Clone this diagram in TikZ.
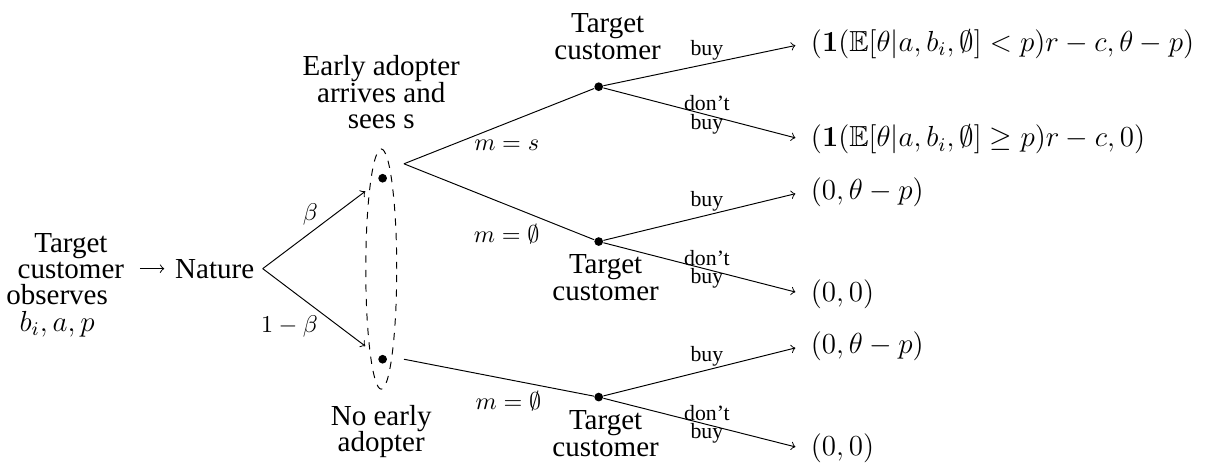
\documentclass[tikz,border=0pt]{standalone}
\usepackage{amsmath,amssymb}
\usepackage[no-math]{fontspec}
\setmainfont{Liberation Serif}
\usetikzlibrary{positioning,shapes.geometric}
\tikzstyle{txt} = [align=center, font=\fontsize{12pt}{11pt}\selectfont]
\tikzstyle{lbl} = [align=center, inner sep=1pt, font=\fontsize{9pt}{7.6pt}\selectfont]
\tikzstyle{mlbl} = [inner sep=1pt, font=\fontsize{10pt}{12pt}\selectfont]
\tikzstyle{payoff} = [anchor=west, font=\fontsize{12pt}{14pt}\selectfont]
\tikzstyle{dot} = [circle, fill, inner sep=0pt, minimum size=3.6pt]
\tikzstyle{infoset} = [ellipse, draw, dashed, inner sep=0pt,
    minimum width=0.45cm, minimum height=3.49cm]
\tikzstyle{branch} = [draw, ->]
\tikzstyle{branchline} = [draw]

\begin{document}
\begin{tikzpicture}
    \useasboundingbox (0,0) rectangle (17.51,-6.742);
    % Place nodes
    \node [txt, anchor=base] (nature) at (3.12,-4.04) {Nature};
    \node [txt, anchor=south] (tc) at (1.03,-4.18) {Target\\customer};
    \node [txt, anchor=north] (obs) at (0.83,-4.01) {observes\\$b_i,a,p$};
    \node [infoset] (info) at (5.54,-3.91) {};
    \node [dot] (ea) at (5.56,-2.59) {};
    \node [dot] (na) at (5.56,-5.22) {};
    \coordinate (s1) at (5.87,-2.38);
    \coordinate (s2) at (5.87,-5.22);
    \node [txt, above=0.16cm of info] (eatext) {Early adopter\\arrives and\\sees s};
    \node [txt, below=0.1cm of info] (natext) {No early\\adopter};
    \node [dot] (t1) at (8.70,-1.26) {};
    \node [dot] (t2) at (8.70,-3.51) {};
    \node [dot] (t3) at (8.70,-5.77) {};
    \node [txt, above=0.2cm of t1, xshift=0.13cm] (t1text) {Target\\customer};
    \node [txt, below=0pt of t2, xshift=0.1cm] (t2text) {Target\\customer};
    \node [txt, below=0pt of t3, xshift=0.1cm] (t3text) {Target\\customer};
    % payoffs
    \node [payoff] (l1) at (11.66,-0.64) {$(\mathbf{1}(\mathbb{E}[\theta|a,b_i,\emptyset] < p)r-c,\theta-p)$};
    \node [payoff] (l2) at (11.66,-2.03) {$(\mathbf{1}(\mathbb{E}[\theta|a,b_i,\emptyset] \geq p)r-c,0)$};
    \node [payoff] (l3) at (11.66,-2.79) {$(0,\theta-p)$};
    \node [payoff] (l4) at (11.66,-4.27) {$(0,0)$};
    \node [payoff] (l5) at (11.66,-5.03) {$(0,\theta-p)$};
    \node [payoff] (l6) at (11.66,-6.52) {$(0,0)$};

    % Draw edges
    \path [branch, shorten <=3pt, shorten >=1pt] (tc.east |- nature.west) -- (nature.west);
    \path [branch, shorten >=7pt] (nature.east) -- node [mlbl, above left, yshift=-1.5pt] {$\beta$} (ea);
    \path [branch, shorten >=7pt] (nature.east) -- node [mlbl, below left] {$1-\beta$} (na);
    \path [branchline] (s1) -- node [mlbl, pos=0.54, below=6pt] {$m=s$} (t1);
    \path [branchline] (s1) -- node [mlbl, pos=0.54, below=7pt] {$m=\emptyset$} (t2);
    \path [branchline] (s2) -- node [mlbl, pos=0.55, below=3.5pt] {$m=\emptyset$} (t3);
    \path [branch, shorten >=3pt] (t1) -- node [lbl, pos=0.52, above=0.5pt] {buy} (l1.west);
    \path [branch, shorten >=3pt] (t1) -- node [lbl, pos=0.52] {don't\\buy} (l2.west);
    \path [branch, shorten >=3pt] (t2) -- node [lbl, pos=0.52, above=0.5pt] {buy} (l3.west);
    \path [branch, shorten >=3pt] (t2) -- node [lbl, pos=0.52] {don't\\buy} (l4.west);
    \path [branch, shorten >=3pt] (t3) -- node [lbl, pos=0.52, above=0.5pt] {buy} (l5.west);
    \path [branch, shorten >=3pt] (t3) -- node [lbl, pos=0.52] {don't\\buy} (l6.west);
\end{tikzpicture}
\end{document}
